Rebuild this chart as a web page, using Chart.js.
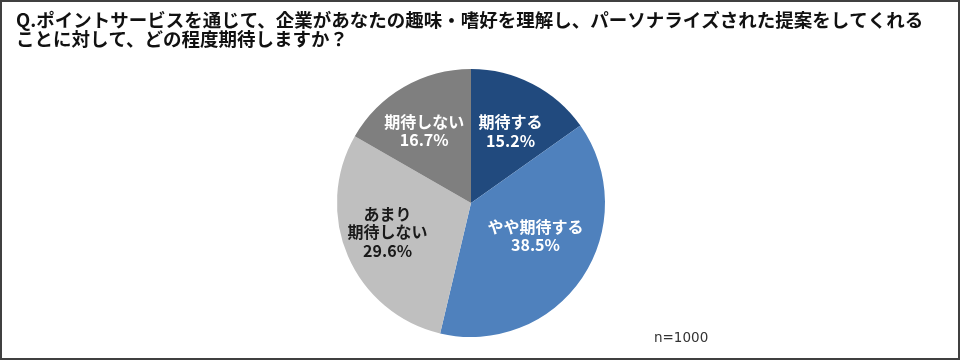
<!DOCTYPE html>
<html><head><meta charset="utf-8">
<script src="https://cdn.jsdelivr.net/npm/chart.js@4"></script>
<style>
html,body{margin:0;padding:0;background:#fff;}
#wrap{position:relative;width:960px;height:360px;}
#c{position:absolute;left:0;top:0;}
#frame{position:absolute;left:0;top:0;width:960px;height:360px;box-sizing:border-box;border:2px solid #404040;pointer-events:none;}
</style></head>
<body>
<div id="wrap"><canvas id="c" width="960" height="360"></canvas><div id="frame"></div></div>
<script>
const titleLines = [
  'Q.ポイントサービスを通じて、企業があなたの趣味・嗜好を理解し、パーソナライズされた提案をしてくれる',
  'ことに対して、どの程度期待しますか？'
];
const categories = ['期待する', 'やや期待する', 'あまり\n期待しない', '期待しない'];
const percentages = [15.2, 38.5, 29.6, 16.7];
const sliceColors = ['#214A7E', '#4F81BD', '#BFBFBF', '#7F7F7F'];
const labelColors = ['#ffffff', '#ffffff', '#1a1a1a', '#ffffff'];
const sampleNote = 'n=1000';

const labelPlugin = {
  id: 'sliceLabels',
  afterDatasetsDraw(chart, args, opts) {
    const ctx = chart.ctx;
    const meta = chart.getDatasetMeta(0);
    ctx.save();
    ctx.font = 'bold 16px "Noto Sans CJK JP", sans-serif';
    ctx.textAlign = 'center';
    ctx.textBaseline = 'middle';
    meta.data.forEach((arc, i) => {
      const mid = (arc.startAngle + arc.endAngle) / 2 + opts.angleShift[i] * Math.PI / 180;
      const r = arc.outerRadius * opts.radial[i];
      const cx = arc.x + Math.cos(mid) * r;
      const cy = arc.y + Math.sin(mid) * r;
      const lines = categories[i].split('\n').concat([percentages[i].toFixed(1) + '%']);
      const lh = 18.5;
      const y0 = cy - (lines.length - 1) * lh / 2;
      ctx.fillStyle = labelColors[i];
      lines.forEach((t, k) => ctx.fillText(t, cx, y0 + k * lh));
    });
    ctx.restore();
  }
};

const textPlugin = {
  id: 'pageText',
  afterDraw(chart) {
    const ctx = chart.ctx;
    ctx.save();
    ctx.fillStyle = '#111111';
    ctx.font = 'bold 18.5px "Noto Sans CJK JP", sans-serif';
    ctx.textAlign = 'left';
    ctx.textBaseline = 'middle';
    ctx.fillText(titleLines[0], 16, 19.5);
    ctx.fillText(titleLines[1], 16, 39);
    ctx.fillStyle = '#333333';
    ctx.font = '13.5px "DejaVu Sans", sans-serif';
    ctx.fillText(sampleNote, 654, 338);
    ctx.restore();
  }
};

new Chart(document.getElementById('c'), {
  type: 'pie',
  data: {
    labels: categories,
    datasets: [{
      data: percentages,
      backgroundColor: sliceColors,
      borderWidth: 0
    }]
  },
  options: {
    responsive: false,
    animation: false,
    rotation: 0,
    layout: { padding: { top: 69, bottom: 23, left: 337, right: 355 } },
    plugins: {
      legend: { display: false },
      tooltip: { enabled: false },
      title: { display: false },
      sliceLabels: {
        radial: [0.61, 0.54, 0.66, 0.64],
        angleShift: [1.6, -7, 4, -3]
      }
    }
  },
  plugins: [labelPlugin, textPlugin]
});
</script>
</body></html>
